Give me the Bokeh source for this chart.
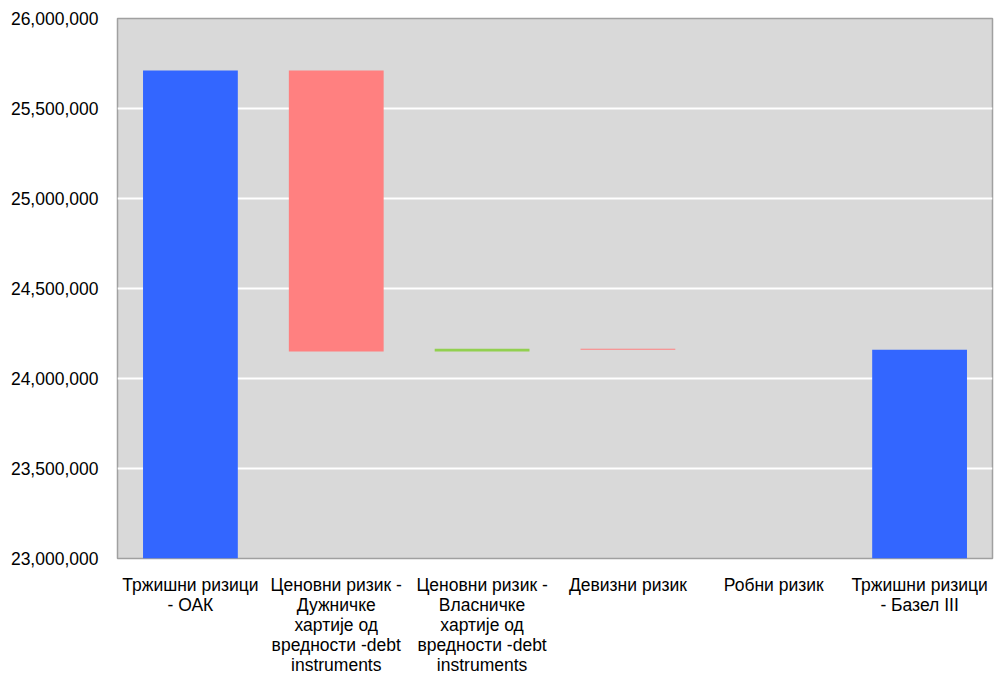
from bokeh.plotting import figure
from bokeh.layouts import column
from bokeh.models import NumeralTickFormatter, SingleIntervalTicker, ColumnDataSource, Range1d
from bokeh.core.properties import value
from bokeh.embed import file_html
from bokeh.resources import INLINE

# Waterfall of market-risk capital requirement components
categories = [
    "Тржишни ризици - ОАК",
    "Ценовни ризик - Дужничке хартије од вредности -debt instruments",
    "Ценовни ризик - Власничке хартије од вредности -debt instruments",
    "Девизни ризик",
    "Робни ризик",
    "Тржишни ризици - Базел III",
]
label_lines = [
    ["Тржишни ризици", "- ОАК"],
    ["Ценовни ризик -", "Дужничке", "хартије од", "вредности -debt", "instruments"],
    ["Ценовни ризик -", "Власничке", "хартије од", "вредности -debt", "instruments"],
    ["Девизни ризик"],
    ["Робни ризик"],
    ["Тржишни ризици", "- Базел III"],
]
start_total = 25711000
changes = [-1561000, 15000, -5000, 0]  # debt, equity, FX, commodity
y_ticks = [23000000, 23500000, 24000000, 24500000, 25000000, 25500000, 26000000]

BLUE = "#3366FF"
RED = "#FF8080"
GREEN = "#92D050"
AXIS_MIN, AXIS_MAX = y_ticks[0], y_ticks[-1]
FONT = "Liberation Sans"
FONT_SIZE = "17.5px"

# Build bar bottoms/tops for the waterfall
tops, bottoms, colors = [start_total], [AXIS_MIN], [BLUE]
running = start_total
for d in changes:
    new = running + d
    tops.append(max(running, new))
    bottoms.append(min(running, new))
    colors.append(GREEN if d > 0 else RED)
    running = new
tops.append(running)
bottoms.append(AXIS_MIN)
colors.append(BLUE)

src = ColumnDataSource(dict(x=categories, top=tops, bottom=bottoms, color=colors))

CHART_H = 569
p = figure(
    x_range=categories, y_range=(AXIS_MIN, AXIS_MAX), x_axis_location=None,
    width=994, height=CHART_H, output_backend="svg", toolbar_location=None,
    min_border_left=117, min_border_right=2, min_border_top=18, min_border_bottom=11,
)
p.vbar(x="x", top="top", bottom="bottom", width=0.65, fill_color="color",
       line_color=None, source=src)

p.background_fill_color = "#D9D9D9"
p.border_fill_color = "white"
p.outline_line_color = "#A0A0A0"
p.outline_line_width = 1.5

p.xgrid.grid_line_color = None
p.ygrid.grid_line_color = "white"
p.ygrid.grid_line_width = 2

p.yaxis.ticker = SingleIntervalTicker(interval=500000)
p.yaxis.formatter = NumeralTickFormatter(format="0,0")
p.yaxis.axis_line_color = None
p.yaxis.major_tick_line_color = None
p.yaxis.minor_tick_line_color = None
p.yaxis.major_label_standoff = 13
p.yaxis.major_label_text_font = FONT
p.yaxis.major_label_text_font_size = FONT_SIZE
p.yaxis.major_label_text_color = "black"

# Wrapped category labels, drawn in a strip below the chart on the same x range
STRIP_H = 674 - CHART_H
first_baseline = 15   # px from strip top
line_step = 20
lx, ly, lt = [], [], []
for cat, lines in zip(categories, label_lines):
    for j, line in enumerate(lines):
        lx.append(cat)
        ly.append(STRIP_H - first_baseline - j * line_step)
        lt.append(line)

strip = figure(
    x_range=p.x_range, y_range=Range1d(0, STRIP_H),
    width=994, height=STRIP_H, output_backend="svg", toolbar_location=None,
    x_axis_location=None, y_axis_location=None,
    min_border_left=117, min_border_right=2, min_border_top=0, min_border_bottom=0,
)
strip.outline_line_color = None
strip.grid.grid_line_color = None
strip.background_fill_color = "white"
strip.text(x=lx, y=ly, text=lt, text_align="center", text_baseline="alphabetic",
           text_font=value(FONT), text_font_size=FONT_SIZE, text_color="black")

layout = column(p, strip, spacing=0)
open("out.html", "w").write(file_html(layout, INLINE))
